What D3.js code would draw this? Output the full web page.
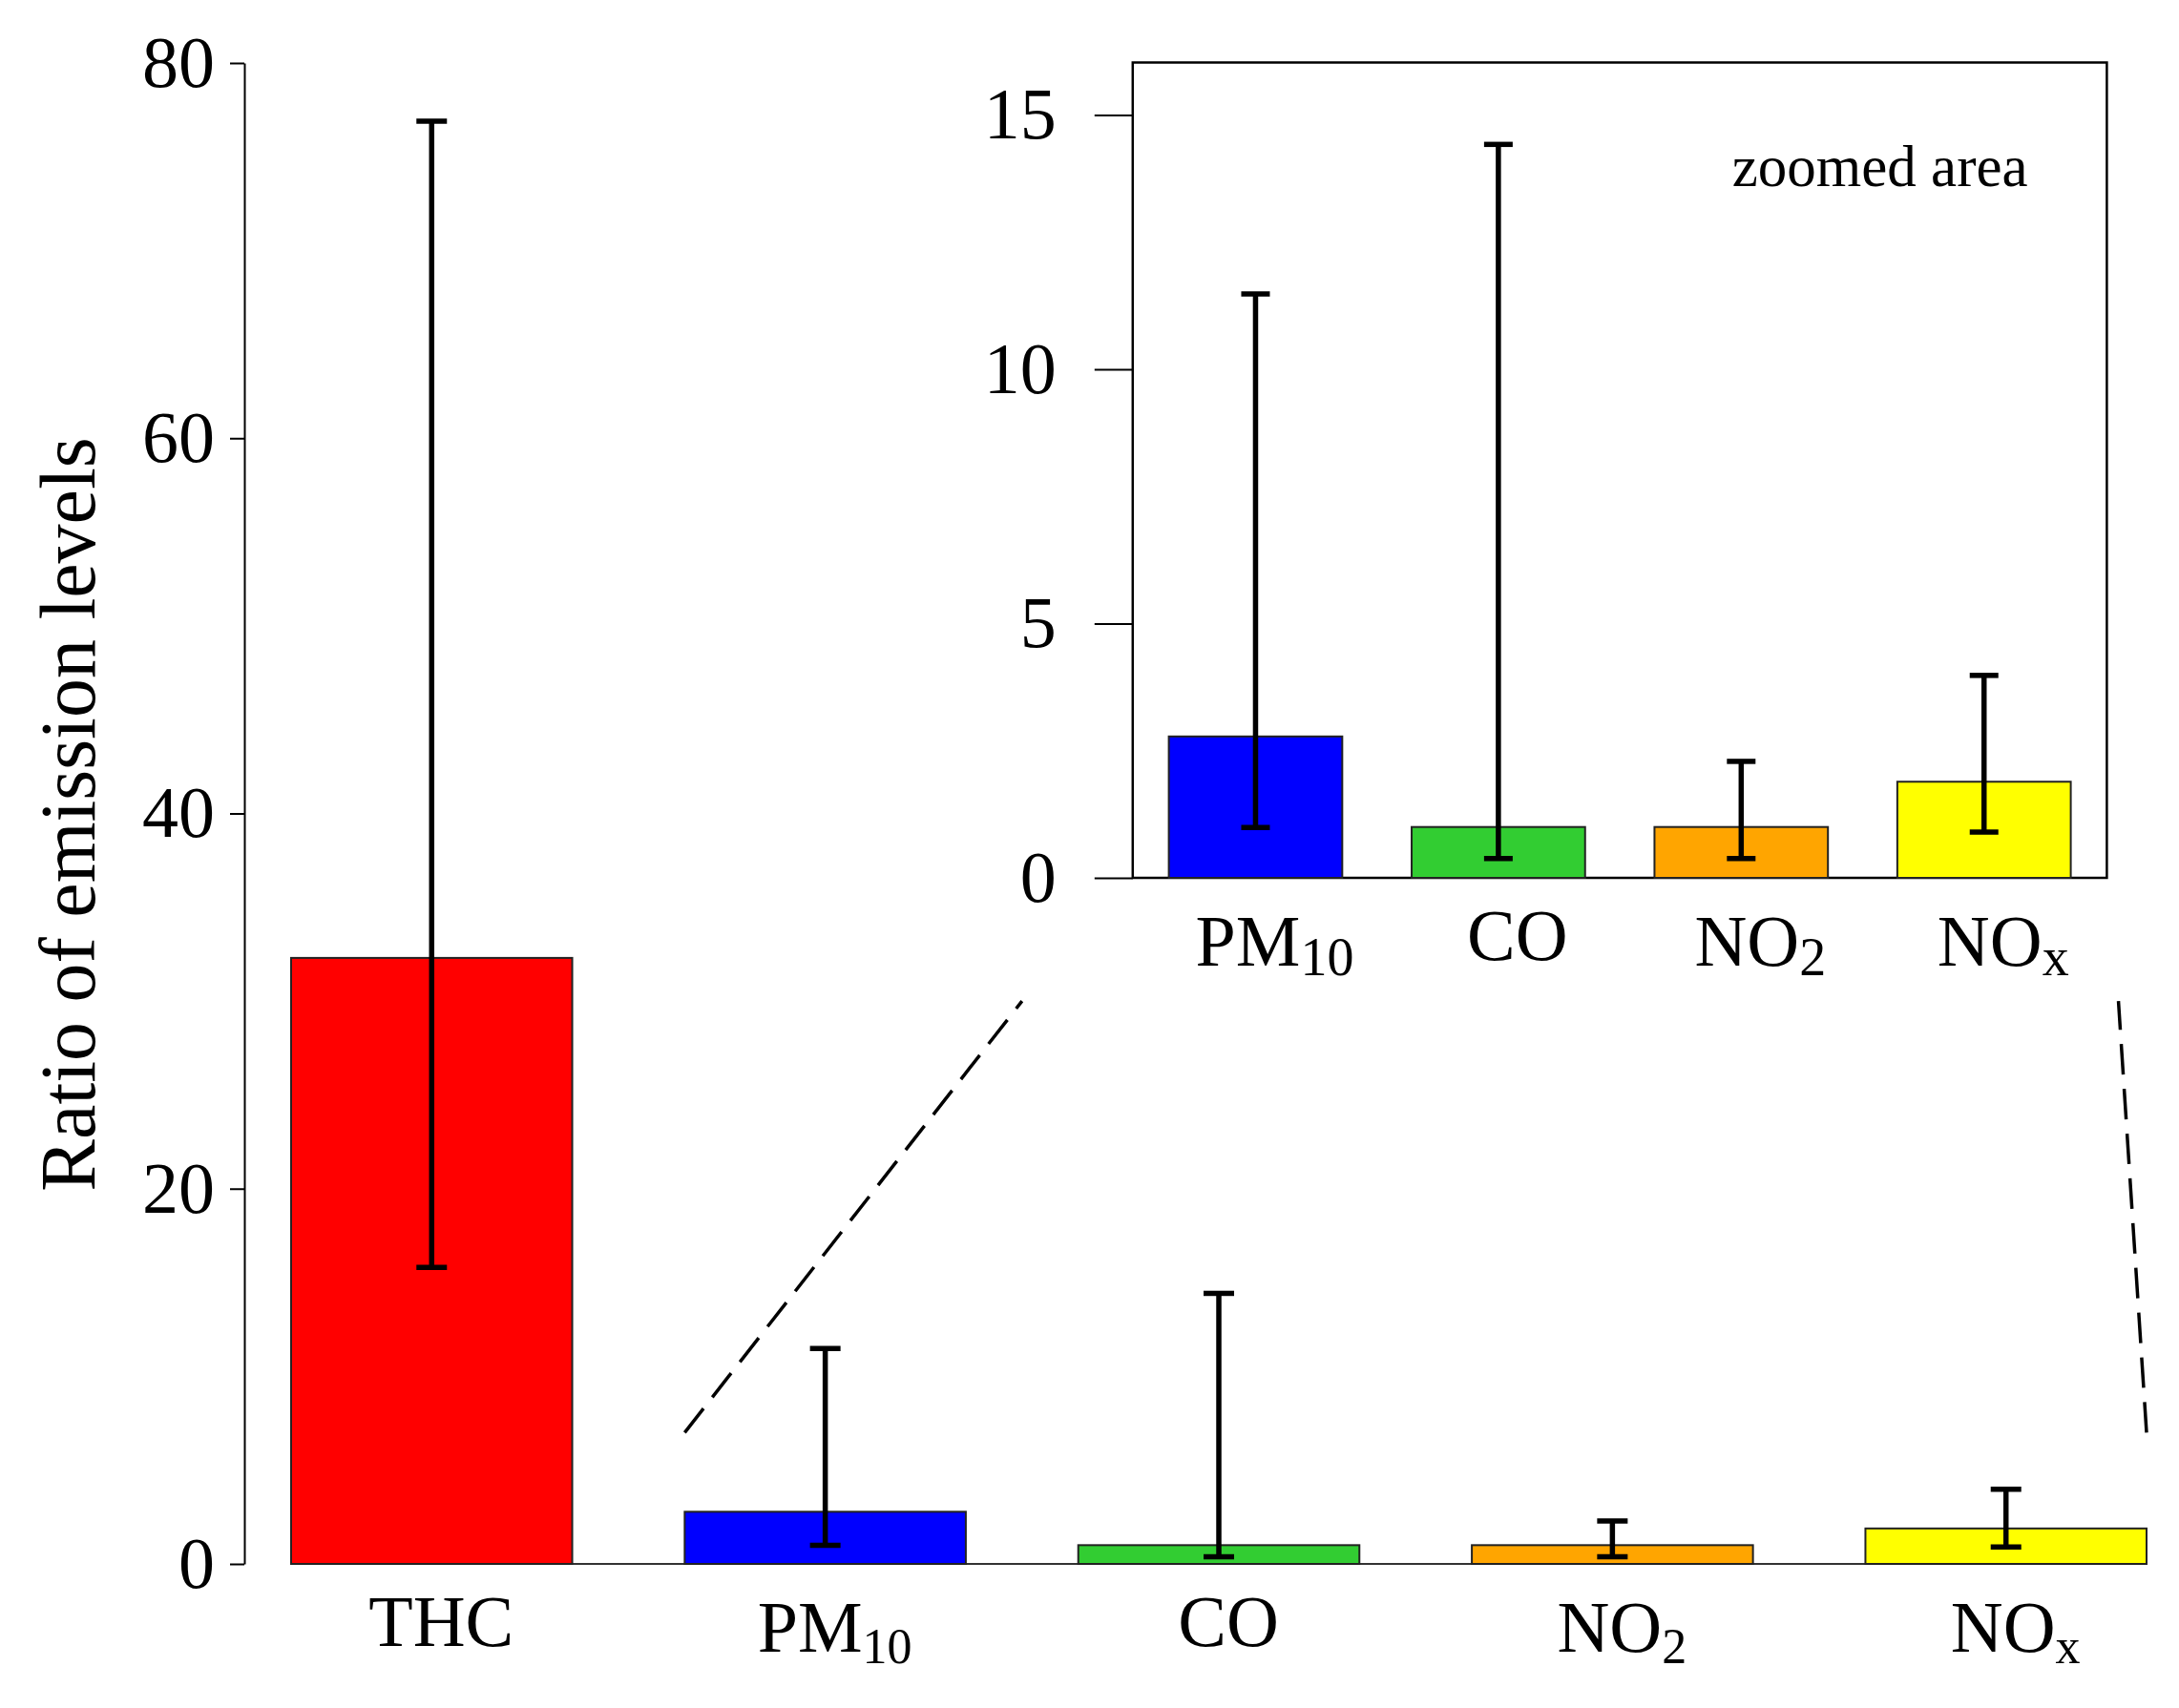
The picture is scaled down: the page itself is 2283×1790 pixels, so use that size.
<!DOCTYPE html>
<html>
<head>
<meta charset="utf-8">
<script src="https://cdn.jsdelivr.net/npm/d3@7"></script>
<style>
    body { margin: 0; background: #fff; }
    svg { display: block; }
</style>
</head>
<body>
<script>
// pollutant ratios, main chart and zoomed inset share the same values
const categories = ['THC', 'PM10', 'CO', 'NO2', 'NOx'];
const labelBase = ['THC', 'PM', 'CO', 'NO', 'NO'];
const labelSub = ['', '10', '', '2', 'x'];
const ratios = [32.3, 2.78, 1.0, 1.0, 1.89];
const errLow = [15.8, 0.99, 0.38, 0.38, 0.9];
const errHigh = [76.9, 11.48, 14.42, 2.29, 3.98];
const barColors = ['#ff0000', '#0000ff', '#32cd32', '#ffa500', '#ffff00'];
const mainTicks = [0, 20, 40, 60, 80];
const insetTicks = [0, 5, 10, 15];

const FONT = '"Liberation Serif", "Times New Roman", serif';
const width = 2283;
const height = 1790;

const rows = categories.map((c, i) => ({
    id: c,
    base: labelBase[i],
    sub: labelSub[i],
    value: ratios[i],
    lo: errLow[i],
    hi: errHigh[i],
    color: barColors[i]
}));
const insetRows = rows.slice(1);

const svg = d3.select('body')
    .append('svg')
    .attr('width', width)
    .attr('height', height);

// bar layout follows R barplot: width 1, space 0.4
const xMain = d3.scaleBand()
    .domain(categories)
    .range([305, 2249])
    .paddingInner(0.4 / 1.4)
    .paddingOuter(0);
const uMain = d3.scaleLinear().domain([0.4, 7.0]).range([305, 2249]);
const yMain = d3.scaleLinear().domain([0, 80]).range([1639, 66]);

const xInset = d3.scaleBand()
    .domain(insetRows.map(d => d.id))
    .range([1224.6, 2169.6])
    .paddingInner(0.4 / 1.4)
    .paddingOuter(0);
const uInset = d3.scaleLinear().domain([0.4, 5.6]).range([1224.6, 2169.6]);
const yInset = d3.scaleLinear().domain([0, 16.03]).range([920, 65.5]);

function styleAxis(g) {
    g.attr('font-family', FONT)
        .attr('font-size', 76)
        .attr('color', '#000');
    g.selectAll('line').attr('stroke-width', 2);
    g.selectAll('path').attr('stroke-width', 2);
}

function drawBars(g, data, x, y, capWidth) {
    const bw = x.bandwidth();
    g.selectAll('.bar')
        .data(data)
        .enter()
        .append('rect')
        .attr('class', 'bar')
        .attr('x', d => x(d.id))
        .attr('y', d => y(d.value))
        .attr('width', bw)
        .attr('height', d => y(0) - y(d.value))
        .style('fill', d => d.color)
        .style('stroke', '#222')
        .style('stroke-width', 2);

    const err = g.selectAll('.err')
        .data(data)
        .enter()
        .append('g')
        .attr('class', 'err')
        .attr('transform', d => `translate(${x(d.id) + bw / 2},0)`)
        .style('stroke', '#000')
        .style('stroke-width', 5.5);
    err.append('line')
        .attr('y1', d => y(d.lo))
        .attr('y2', d => y(d.hi));
    err.append('line')
        .attr('x1', -capWidth / 2).attr('x2', capWidth / 2)
        .attr('y1', d => y(d.hi)).attr('y2', d => y(d.hi));
    err.append('line')
        .attr('x1', -capWidth / 2).attr('x2', capWidth / 2)
        .attr('y1', d => y(d.lo)).attr('y2', d => y(d.lo));
}

function drawLabels(g, data, x, yPlain, ySub, dx, subSize, subShift) {
    const bw = x.bandwidth();
    const t = g.selectAll('.cat')
        .data(data)
        .enter()
        .append('text')
        .attr('class', 'cat')
        .attr('x', d => x(d.id) + bw / 2 + dx)
        .attr('y', d => d.sub ? ySub : yPlain)
        .attr('text-anchor', 'middle')
        .attr('font-family', FONT)
        .attr('font-size', 76)
        .style('fill', '#000');
    t.append('tspan').text(d => d.base);
    t.filter(d => d.sub)
        .append('tspan')
        .attr('font-size', subSize)
        .attr('dy', subShift)
        .text(d => d.sub);
}

// main chart
const main = svg.append('g');

main.append('g')
    .attr('transform', 'translate(256,0)')
    .call(d3.axisLeft(yMain)
        .tickValues(mainTicks)
        .tickSize(15)
        .tickSizeOuter(0)
        .tickPadding(16)
        .tickFormat(d3.format('d')))
    .call(styleAxis);

main.append('line')
    .attr('x1', xMain.range()[0])
    .attr('x2', xMain.range()[1])
    .attr('y1', yMain(0))
    .attr('y2', yMain(0))
    .style('stroke', '#333')
    .style('stroke-width', 2);

drawBars(main, rows, xMain, yMain, 32);
drawLabels(main, rows, xMain, 1725, 1731, 10, 52, 12);

main.append('text')
    .attr('transform', `translate(99,${(yMain(0) + yMain(80)) / 2 + 1}) rotate(-90)`)
    .attr('text-anchor', 'middle')
    .attr('font-family', FONT)
    .attr('font-size', 82)
    .style('fill', '#000')
    .text('Ratio of emission levels');

// dashed guides from the small bars up to the inset
const guides = [
    [[1.8, 7], [3.0, 30]],
    [[7.0, 7], [6.9, 30]]
];
main.selectAll('.guide')
    .data(guides)
    .enter()
    .append('line')
    .attr('class', 'guide')
    .attr('x1', d => uMain(d[0][0]))
    .attr('y1', d => yMain(d[0][1]))
    .attr('x2', d => uMain(d[1][0]))
    .attr('y2', d => yMain(d[1][1]))
    .style('stroke', '#000')
    .style('stroke-width', 3.5)
    .style('stroke-dasharray', '32,15');

// zoomed inset
const inset = svg.append('g');

inset.append('rect')
    .attr('x', uInset(0.192))
    .attr('y', yInset(16.03))
    .attr('width', uInset(5.808) - uInset(0.192))
    .attr('height', yInset(0) - yInset(16.03))
    .style('fill', '#fff')
    .style('stroke', '#000')
    .style('stroke-width', 2.5);

inset.append('g')
    .attr('transform', `translate(${uInset(0.192)},0)`)
    .call(d3.axisLeft(yInset)
        .tickValues(insetTicks)
        .tickSize(40)
        .tickSizeOuter(0)
        .tickPadding(40)
        .tickFormat(d3.format('d')))
    .call(styleAxis)
    .call(g => g.select('.domain').remove());

drawBars(inset, insetRows, xInset, yInset, 30);
drawLabels(inset, insetRows, xInset, 1006, 1012, 20, 56, 10);

inset.append('text')
    .attr('x', uInset(4.5))
    .attr('y', yInset(13.6))
    .attr('text-anchor', 'middle')
    .attr('font-family', FONT)
    .attr('font-size', 61)
    .style('fill', '#000')
    .text('zoomed area');
</script>
</body>
</html>
